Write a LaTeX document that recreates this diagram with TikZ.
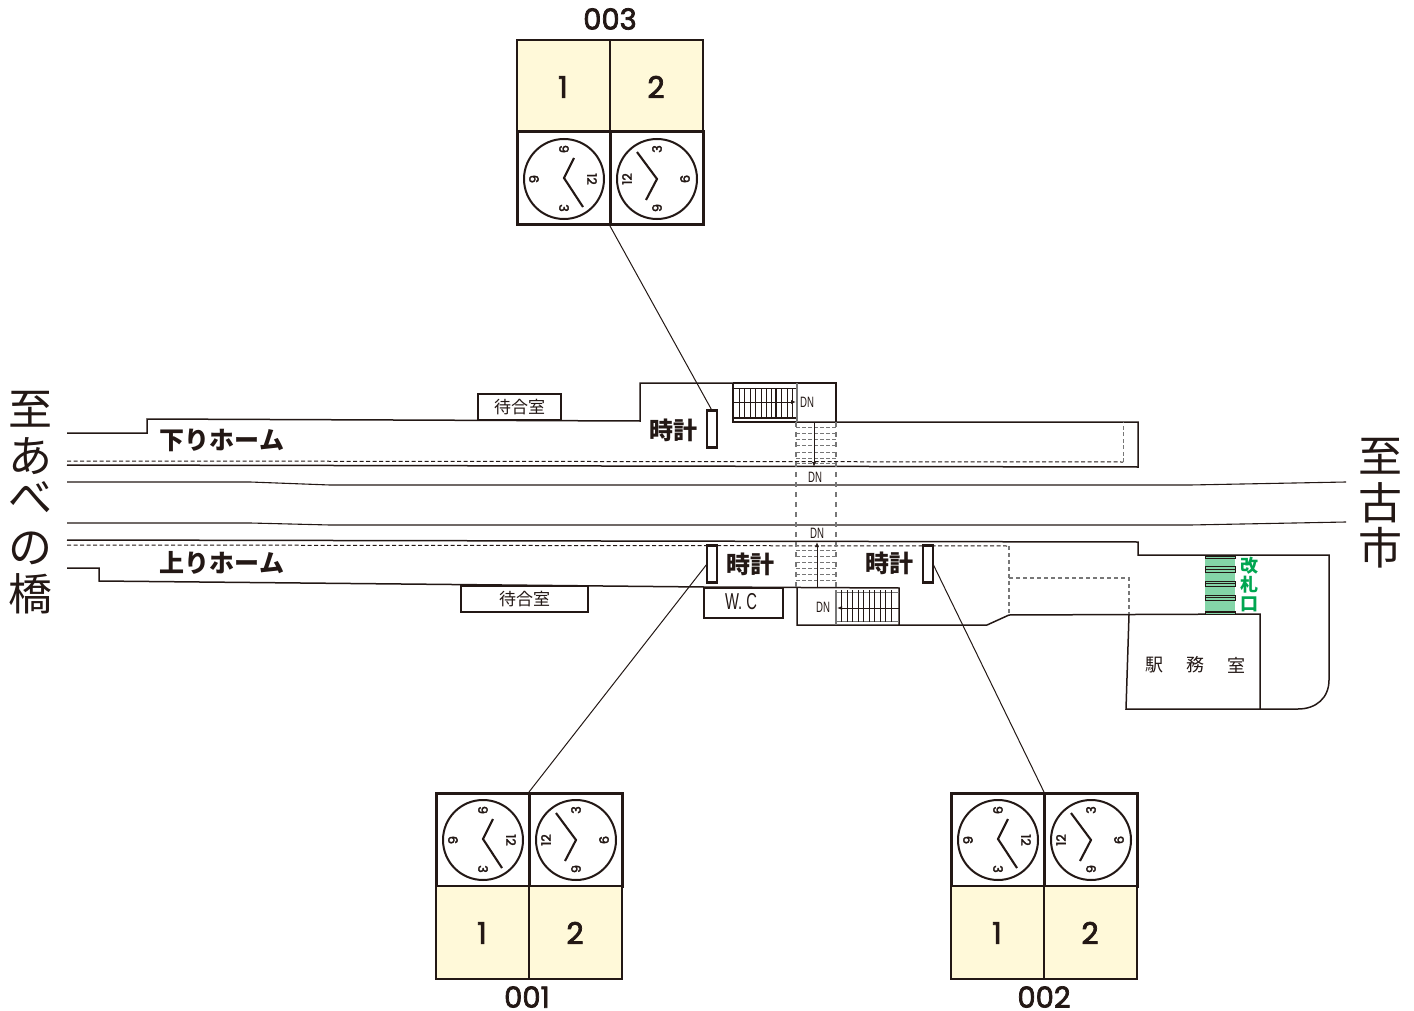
\documentclass[tikz,border=0pt]{standalone}
\usepackage{fontspec}
\usetikzlibrary{arrows.meta}
\setmainfont{Noto Sans CJK JP}
\newfontfamily\popfont[FakeBold=2.5]{Poppins}
\newfontfamily\narrowfont{Liberation Sans}
\definecolor{ink}{HTML}{231815}
\definecolor{boardyellow}{HTML}{FFF9D9}
\definecolor{gategreen}{HTML}{84D5A8}
\definecolor{gatetext}{HTML}{00A651}
\definecolor{dashgray}{HTML}{777777}
\tikzset{
  x=1pt,y=-1pt,
  every node/.style={inner sep=0pt,outer sep=0pt,text=ink},
  wall/.style={draw=ink,line width=1.5pt,line join=miter},
  heavy/.style={draw=ink,line width=2.4pt},
  thin wall/.style={draw=ink,line width=1.1pt},
  hidden/.style={draw=ink,line width=1pt,dash pattern=on 4pt off 2.5pt},
  hiddengray/.style={draw=dashgray,line width=1.3pt,dash pattern=on 5pt off 5pt},
  leader/.style={draw=ink,line width=1pt},
  cellbox/.style={draw=ink,line width=3pt,fill=white},
  yellowbox/.style={draw=ink,line width=1.7pt,fill=boardyellow},
  face/.style={draw=ink,line width=2pt,fill=white,circle,minimum size=80pt},
  hand/.style={draw=ink,line width=2.1pt},
  signbox/.style={draw=ink,line width=2.8pt,fill=white,minimum width=10pt,minimum height=37pt},
  roomlabel/.style={font=\fontsize{17}{17}\selectfont},
  clocklabel/.style={font=\fontsize{24}{24}\selectfont\bfseries},
  platlabel/.style={font=\fontsize{25}{25}\selectfont\bfseries},
  destlabel/.style={font=\fontsize{44}{44}\selectfont},
  gatelabel/.style={font=\fontsize{18}{18}\selectfont\bfseries,text=gatetext},
  officelabel/.style={font=\fontsize{18}{18}\selectfont},
  unitnum/.style={font=\popfont\fontsize{29}{29}\selectfont},
  cellnum/.style={font=\popfont\fontsize{30}{30}\selectfont},
  dialnum/.style={font=\popfont\fontsize{13}{13}\selectfont},
  dnlabel/.style={font=\narrowfont\fontsize{15}{15}\selectfont,xscale=0.64},
  wclabel/.style={font=\narrowfont\fontsize{23}{23}\selectfont,xscale=0.64},
}
% clock pair drawn with its top-left corner at (#1,#2)
\newcommand{\clockcells}[2]{%
  \begin{scope}[shift={(#1,#2)}]
    \draw[cellbox] (0,0) rectangle (93,93);
    \draw[cellbox] (93,0) rectangle (186,93);
    \node[face] at (47,47) {};
    \node[face] at (140,47) {};
    \draw[hand] (57,26) -- (47,46) -- (66,75);
    \draw[hand] (120,20) -- (140,47) -- (129,68);
    \node[dialnum,rotate=-90] at (47,17) {9};
    \node[dialnum,rotate=-90] at (17,47) {6};
    \node[dialnum,rotate=-90] at (75,47) {12};
    \node[dialnum,rotate=-90] at (47,76) {3};
    \node[dialnum,rotate=90] at (140,17) {3};
    \node[dialnum,rotate=90] at (168,47) {6};
    \node[dialnum,rotate=90] at (110,47) {12};
    \node[dialnum,rotate=90] at (140,76) {9};
  \end{scope}}
\newcommand{\numbercells}[2]{%
  \begin{scope}[shift={(#1,#2)}]
    \draw[yellowbox] (0,0) rectangle (93,93);
    \draw[yellowbox] (93,0) rectangle (186,93);
    \node[cellnum] at (46,47) {1};
    \node[cellnum] at (139,47) {2};
  \end{scope}}
\begin{document}
\begin{tikzpicture}
\useasboundingbox (0,0) rectangle (1414,1011);
% clock units
\numbercells{517}{40}
\clockcells{517}{132}
\node[unitnum] (u3) at (610,19) {003};
\coordinate (u3end) at (610,226);
\clockcells{436}{793}
\numbercells{436}{886}
\node[unitnum] (u1) at (527,997) {001};
\coordinate (u1end) at (529,792);
\clockcells{951}{793}
\numbercells{951}{886}
\node[unitnum] (u2) at (1044,997) {002};
\coordinate (u2end) at (1044,792);
% upper platform
\draw[wall] (67,433) -- (147,433) -- (147,419) -- (640,421) -- (640,383) -- (836,383);
\draw[wall] (733,422) -- (1138,422) -- (1138,467) -- (67,465);
\draw[hidden] (67,461) -- (1123,462);
\draw[hidden,draw=dashgray] (1123,462) -- (1123,422);
% tracks
\draw[thin wall] (67,482) -- (250,482) -- (330,485) -- (1190,485) -- (1346,482);
\draw[thin wall] (67,523) -- (250,523) -- (330,525) -- (1190,525) -- (1346,522);
% lower platform
\draw[wall] (67,540) -- (1138,542) -- (1138,555) -- (1329,555) -- (1329,680) .. controls (1329,698) and (1316,709) .. (1298,709) -- (1126,709) -- (1129,615);
\draw[wall] (67,568) -- (99,568) -- (99,581) -- (704,587) -- (899,588) -- (899,625) -- (797,625) -- (797,588);
\draw[wall] (899,625) -- (987,625) -- (1009,615) -- (1260,614) -- (1260,709);
\draw[hidden] (67,545) -- (1009,546);
\draw[hiddengray,dash pattern=on 4pt off 3pt] (1009,546) -- (1009,615);
\draw[hiddengray,dash pattern=on 4pt off 3pt] (1009,578) -- (1129,578) -- (1129,614);
% rooms
\node[draw=ink,line width=1.1pt,minimum width=83pt,minimum height=26pt,roomlabel] (w1) at (519.5,407) {待合室};
\node[draw=ink,line width=1.1pt,minimum width=127pt,minimum height=26pt,roomlabel] (w2) at (524.5,599) {待合室};
\node[draw=ink,line width=1.4pt,minimum width=79pt,minimum height=30pt] (wc) at (743.5,603) {};
\node[wclabel] at (741,602) {W. C};
% upper stairs
\draw[heavy] (733,383) -- (733,422) -- (797,422);
\draw[heavy] (733,383) -- (836,383) -- (836,422);
\draw[draw=ink,line width=0.7pt] (733,388) -- (797,388);
\draw[draw=ink,line width=1.2pt] (733,418) -- (797,418);
\foreach \tx in {739,744.5,750,755.5,761,766.5,771.5,781,787,792}
  \draw[draw=ink,line width=0.8pt] (\tx,388) -- (\tx,418);
\draw[draw=ink,line width=1.6pt] (776,388) -- (776,418);
\draw[draw=dashgray,line width=1.3pt] (797,383) -- (797,422);
\draw[draw=ink,line width=0.8pt] (733,402) -- (786,402);
\draw[-{Latex[length=5pt,width=4pt]},draw=ink,line width=0.8pt] (786,402) -- (796,402);
\node[dnlabel] (dn1) at (807,402) {DN};
% upper cross stairs
\foreach \ty in {427,433,439,445,452,458,463}
  \draw[hiddengray,dash pattern=on 4pt off 2pt,line width=1pt] (796,\ty) -- (836,\ty);
\draw[hiddengray] (796,422) -- (796,588);
\draw[hiddengray] (836,422) -- (836,588);
\coordinate (a1s) at (814,422);
\coordinate (a1e) at (814,467);
\draw[-{Latex[length=5pt,width=4pt]},draw=ink,line width=0.9pt] (a1s) -- (a1e);
\node[dnlabel,fill=white] (dn2) at (815,477) {DN};
% lower cross stairs
\foreach \ty in {550,556,562,568,574,580}
  \draw[hiddengray,dash pattern=on 4pt off 2pt,line width=1pt] (796,\ty) -- (836,\ty);
\coordinate (a2s) at (817,588);
\coordinate (a2e) at (817,542);
\draw[-{Latex[length=5pt,width=4pt]},draw=ink,line width=0.9pt] (a2s) -- (a2e);
\node[dnlabel,fill=white] (dn3) at (817,533) {DN};
% lower stairs
\draw[draw=dashgray,line width=1.3pt] (836,590) -- (836,625);
\draw[draw=dashgray,line width=1pt] (836,592) -- (899,592);
\draw[draw=dashgray,line width=1pt] (836,621) -- (899,621);
\foreach \tx in {841.5,847,852.5,858,863.5,869,874.5,880,885.5,891}
  \draw[draw=ink,line width=0.8pt] (\tx,590) -- (\tx,622);
\draw[draw=ink,line width=0.8pt] (899,608) -- (846,608);
\draw[-{Latex[length=5pt,width=4pt]},draw=ink,line width=0.8pt] (846,608) -- (837,608);
\node[dnlabel] (dn4) at (823,607) {DN};
% ticket gate
\fill[gategreen] (1205,555) rectangle (1235,614);
\foreach \ty/\th in {555/3,566/6,581/5,595/5,611/3}{
  \draw[draw=ink,line width=0.7pt] (1205,\ty) rectangle (1235,\ty+\th);
  \draw[draw=ink,line width=0.7pt] (1205,\ty+0.5*\th) -- (1235,\ty+0.5*\th);
}
\node[gatelabel] at (1249,566) {改};
\node[gatelabel] at (1249,585) {札};
\node[gatelabel] at (1249,604) {口};
\node[officelabel] at (1154,665) {駅};
\node[officelabel] at (1195,665) {務};
\node[officelabel] at (1236,665) {室};
% clock signs
\node[signbox] (s3) at (712,429) {};
\node[signbox] (s1) at (712,564) {};
\node[signbox] (s2) at (928,564) {};
\node[clocklabel] at (673,430) {時計};
\node[clocklabel] at (750,564) {時計};
\node[clocklabel] at (889,563) {時計};
\draw[leader] (u3end) -- (s3.north);
\draw[leader] (u1end) -- (s1.west);
\draw[leader] (u2end) -- (s2.east);
% labels
\node[platlabel] at (222,440) {下りホーム};
\node[platlabel] at (222,563) {上りホーム};
\node[destlabel] at (31,409) {至};
\node[destlabel] at (31,456) {あ};
\node[destlabel] at (31,498) {べ};
\node[destlabel] at (31,548) {の};
\node[destlabel] at (31,594) {橋};
\node[destlabel] at (1380,456) {至};
\node[destlabel] at (1380,503) {古};
\node[destlabel] at (1380,548) {市};
\end{tikzpicture}
\end{document}
